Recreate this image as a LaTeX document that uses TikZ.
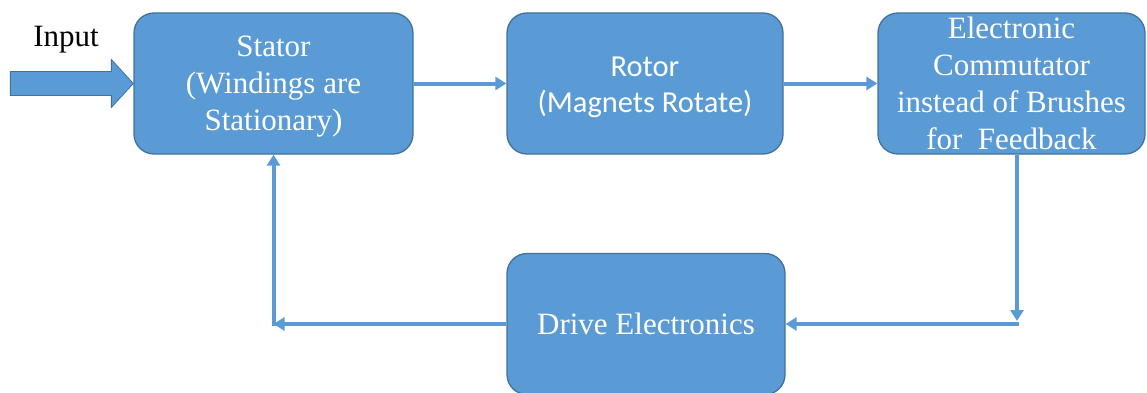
\documentclass[tikz,border=0pt]{standalone}
\usepackage{fontspec}
\setmainfont{Liberation Serif}
\newfontfamily\calibri{Carlito}
\usetikzlibrary{arrows.meta,calc}
\definecolor{boxfill}{HTML}{5B9BD5}
\definecolor{boxedge}{HTML}{41719C}
\begin{document}
\begin{tikzpicture}[x=1pt,y=1pt,
  block/.style={draw=boxedge,line width=1.3pt,fill=boxfill,rounded corners=20pt,
    minimum width=#1,minimum height=141pt,inner sep=0pt},
  block/.default=278pt,
  boxtext/.style={text=white,align=center,inner sep=0pt,font=\fontsize{31}{37}\selectfont},
  sanstext/.style={text=white,align=center,inner sep=0pt,font=\calibri\fontsize{30.5}{36}\selectfont},
  link/.style={draw=boxfill,line width=4pt,-{Triangle[length=11pt,width=13pt]}},
  plain/.style={draw=boxfill,line width=4pt}]
\useasboundingbox (0,0) rectangle (1147,392);

% main blocks
\node[block=279pt] (stator) at (273.5,308.5) {};
\node[block=276pt] (rotor) at (645,308.5) {};
\node[block=267pt] (comm) at (1011.5,308.5) {};
\node[block=278pt] (drive) at (646,68) {};

% block captions
\node[boxtext] (statortext) at ($(stator.center)+(0,-3)$) {Stator\\(Windings are\\Stationary)};
\node[sanstext] (rotortext) at ($(rotor.center)+(0,-4)$) {Rotor\\(Magnets Rotate)};
\node[boxtext] (commtext) at (comm.center) {Electronic\\Commutator\\instead of Brushes\\for\ \ Feedback};
\node[boxtext] (drivetext) at (drive.center) {Drive Electronics};

% input arrow
\node[inner sep=0pt,font=\fontsize{31}{36}\selectfont] (input) at (66,352) {Input};
\coordinate (tip) at (stator.west);
\filldraw[fill=boxfill,draw=boxedge,line width=0.8pt]
  ($(tip)+(-123,-12)$) -- ($(tip)+(-22,-12)$) -- ($(tip)+(-22,-24)$) -- (tip)
  -- ($(tip)+(-22,24)$) -- ($(tip)+(-22,12)$) -- ($(tip)+(-123,12)$) -- cycle;

% forward path
\draw[link] (stator.east) -- (rotor.west);
\draw[link] (rotor.east) -- (comm.west);

% feedback path
\coordinate (rc) at (1017,68);
\coordinate (lc) at (stator.south |- drive.west);
\draw[link] (rc |- comm.south) -- ($(rc)+(0,3)$);
\draw[plain] ($(rc)+(0,-2)$) -- (rc) -- ($(rc)+(0,2)$);
\draw[link] ($(rc)+(2,0)$) -- (drive.east);
\draw[link] (drive.west) -- (lc);
\draw[link] ($(lc)+(0,-2)$) -- (stator.south);
\end{tikzpicture}
\end{document}
